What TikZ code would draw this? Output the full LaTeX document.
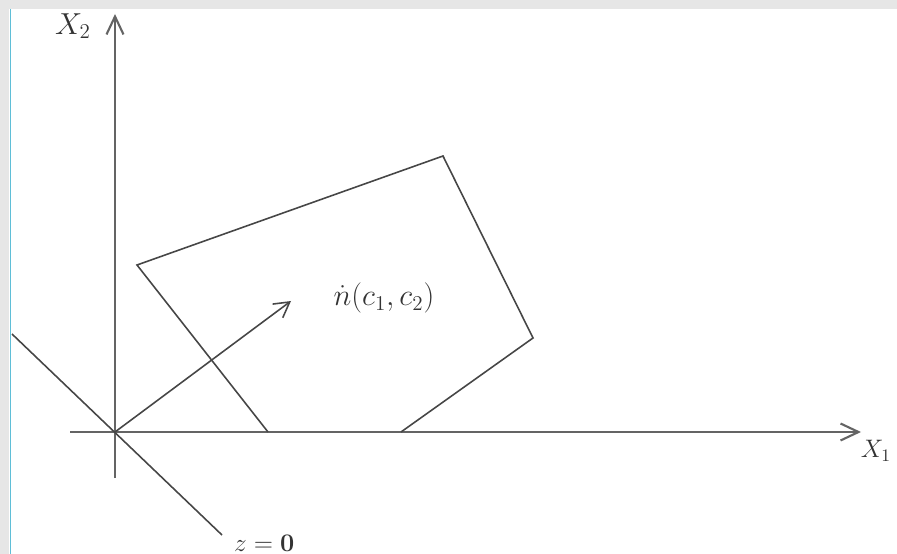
\documentclass[tikz,border=0pt]{standalone}
\usepackage{amsmath,amssymb}
\usetikzlibrary{arrows.meta,positioning,calc}
\definecolor{axisgray}{RGB}{100,100,100}
\definecolor{edgegray}{RGB}{70,70,70}
\definecolor{framegray}{RGB}{230,230,230}
\definecolor{frameblue}{RGB}{95,190,215}

\begin{document}
\begin{tikzpicture}[x=0.02cm,y=-0.02cm,
  axis/.style={draw=axisgray,line width=1.2pt,-{Straight Barb[length=3.6mm,width=3.4mm]}},
  edge/.style={draw=edgegray,line width=0.9pt},
  lab/.style={text=black!80,inner sep=1pt}
]
\useasboundingbox (0,0) rectangle (897,554);
% frame of the slide
\fill[framegray] (0,0) rectangle (897,9);
\fill[framegray] (0,0) rectangle (9,554);
\draw[frameblue,line width=1pt] (10.5,9) -- (10.5,554);
% axes
\coordinate (O) at (115,432);
\coordinate (x0) at (70,432);
\coordinate (x1) at (861,432);
\coordinate (y0) at (115,478);
\coordinate (y1) at (115,14);
\draw[axis] (x0) -- (x1);
\draw[axis] (y0) -- (y1);
\node[lab,font=\Large] (lx1) at (876,451) {$X_1$};
\node[lab,font=\LARGE] (lx2) at (73,26) {$X_2$};
% plane z = 0
\coordinate (za) at (12,334);
\coordinate (zb) at (222,535);
\draw[edge] (za) -- (zb);
\node[lab,font=\Large,anchor=west] (lz) at (232,543) {$z=\mathbf{0}$};
% the polygon
\coordinate (p1) at (268,432);
\coordinate (p2) at (137,265);
\coordinate (p3) at (443,156);
\coordinate (p4) at (533,338);
\coordinate (p5) at (401,432);
\draw[edge] (p1) -- (p2) -- (p3) -- (p4) -- (p5);
% normal vector
\coordinate (n) at (291,301);
\draw[edge,-{Straight Barb[length=3mm,width=3.4mm]}] (O) -- (n);
\node[lab,font=\LARGE] (ln) at (384,298) {$\dot{n}(c_{1},c_{2})$};
\end{tikzpicture}
\end{document}
